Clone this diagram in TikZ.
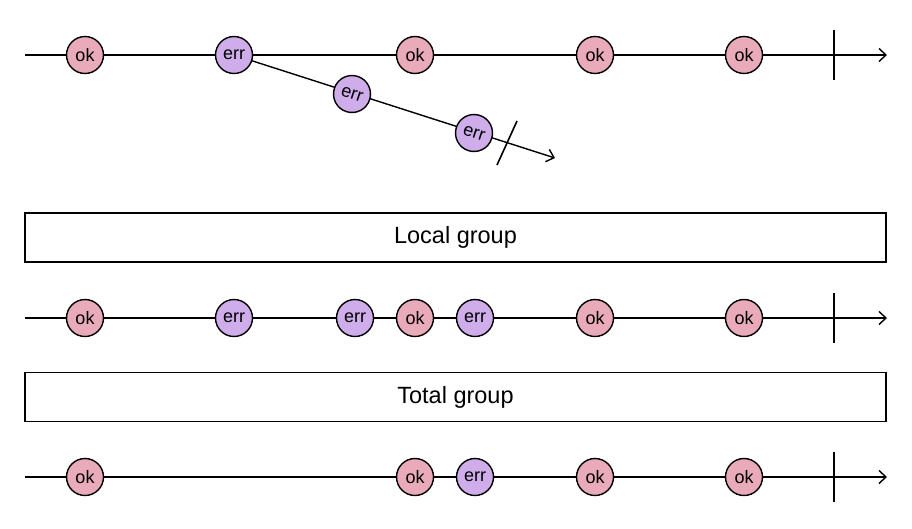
\documentclass[tikz,border=0pt]{standalone}
\usepackage{fontspec}
\setmainfont{Liberation Sans}
\usetikzlibrary{arrows.meta,calc}
\definecolor{okc}{HTML}{E9AAB9}
\definecolor{errc}{HTML}{CFADEA}
\tikzset{
  marble/.style={circle,draw=black,line width=1.4pt,minimum size=37pt,inner sep=0pt,font=\fontsize{18}{18}\selectfont},
  okm/.style={marble,fill=okc},
  errm/.style={marble,fill=errc},
  tl/.style={line width=1.4pt,-{Straight Barb[length=7pt,width=13pt,line width=1.4pt]}},
  tick/.style={line width=1.6pt},
  grp/.style={draw=black,line width=1.4pt,minimum width=861pt,minimum height=49pt,inner sep=0pt,font=\fontsize{23.5}{23.5}\selectfont}
}
\begin{document}
\begin{tikzpicture}[x=1pt,y=-1pt]
\useasboundingbox (0,0) rectangle (912,528);
% line 1
\coordinate (s1) at (25,55); \coordinate (e1) at (887,55);
\draw[tl] (s1) -- (e1);
\coordinate (d0) at (234,55); \coordinate (de) at (555,158);
\draw[tl] (d0) -- (de);
\draw[tick] (834,30) -- (834,80);
\draw[tick] (497,165) -- (517,121);
\node[okm] (a1) at (85,55) {ok};
\node[errm] (a2) at (234,55) {err};
\node[okm] (a3) at (415,55) {ok};
\node[okm] (a4) at (595,55) {ok};
\node[okm] (a5) at (744,55) {ok};
\node[errm,rotate=-17.8] (b1) at (352,94) {err};
\node[errm,rotate=-17.8] (b2) at (474,133) {err};
% box 1
\node[grp] (g1) at (455.5,237.5) {Local group};
% line 2
\coordinate (s2) at (25,318); \coordinate (e2) at (887,318);
\draw[tl] (s2) -- (e2);
\draw[tick] (834,293) -- (834,343);
\node[okm] (c1) at (85,318) {ok};
\node[errm] (c2) at (234,318) {err};
\node[errm] (c3) at (355,318) {err};
\node[okm] (c4) at (415,318) {ok};
\node[errm] (c5) at (475,318) {err};
\node[okm] (c6) at (595,318) {ok};
\node[okm] (c7) at (744,318) {ok};
% box 2
\node[grp] (g2) at (455.5,397) {Total group};
% line 3
\coordinate (s3) at (25,477); \coordinate (e3) at (887,477);
\draw[tl] (s3) -- (e3);
\draw[tick] (834,452) -- (834,502);
\node[okm] (f1) at (85,477) {ok};
\node[okm] (f2) at (415,477) {ok};
\node[errm] (f3) at (475,477) {err};
\node[okm] (f4) at (595,477) {ok};
\node[okm] (f5) at (744,477) {ok};
\end{tikzpicture}
\end{document}
